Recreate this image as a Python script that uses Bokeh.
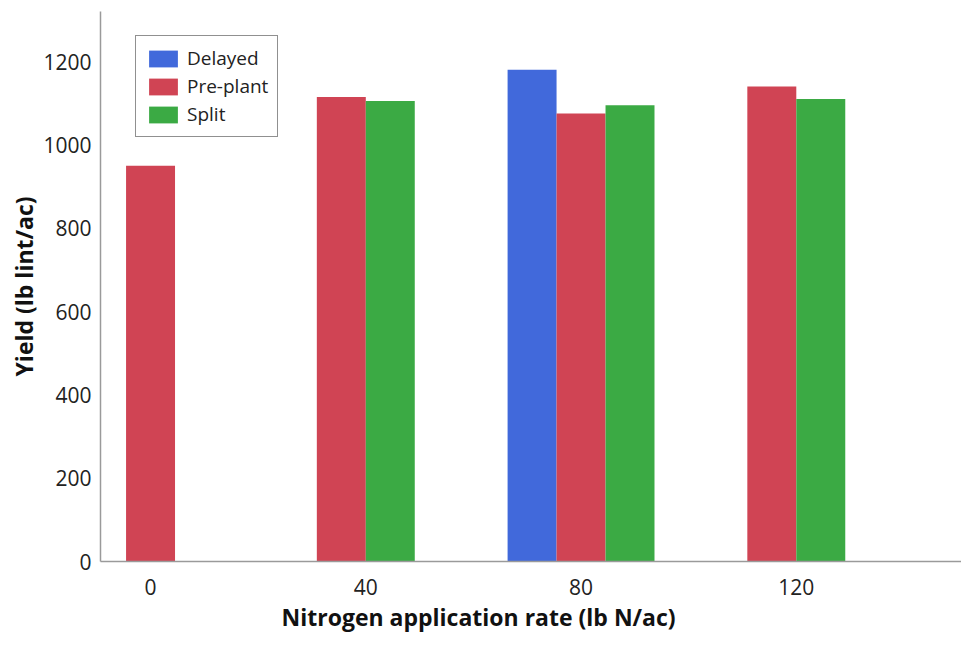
from bokeh.plotting import figure
from bokeh.models import FixedTicker, Legend, LegendItem, ColumnDataSource, Range1d, Title
from bokeh.embed import file_html
from bokeh.resources import INLINE

# ---- data ----
rates = [0, 40, 80, 120]
rate_labels = ["0", "40", "80", "120"]
series_names = ["Delayed", "Pre-plant", "Split"]
delayed = [None, None, 1180, None]
preplant = [950, 1115, 1075, 1140]
split = [None, 1105, 1095, 1110]
colors = ["#4169DB", "#D04454", "#3BAA44"]
y_ticks = [0, 200, 400, 600, 800, 1000, 1200]

FONT = "Open Sans"
bar_w = 9.1

p = figure(width=961, height=640, output_backend="svg", toolbar_location=None,
           x_range=Range1d(-9.3, 150.7), y_range=Range1d(0, 1320),
           min_border_left=100, min_border_right=0, min_border_top=11, min_border_bottom=79)
p.outline_line_color = None
p.xgrid.visible = False
p.ygrid.visible = False

all_series = [delayed, preplant, split]
renderers = []
for si, (name, vals) in enumerate(zip(series_names, all_series)):
    xs, tops = [], []
    for gi, r in enumerate(rates):
        present = [k for k in range(3) if all_series[k][gi] is not None]
        if vals[gi] is None:
            continue
        pos = present.index(si)
        off = (pos - (len(present) - 1) / 2) * bar_w
        xs.append(r + off)
        tops.append(vals[gi])
    src = ColumnDataSource(dict(x=xs, top=tops))
    rr = p.vbar(x="x", top="top", bottom=0, width=bar_w, source=src,
                fill_color=colors[si], line_color=None)
    renderers.append((name, rr))

for ax in (p.xaxis[0], p.yaxis[0]):
    ax.axis_line_color = "#9a9a9a"
    ax.axis_line_width = 1.5
    ax.major_tick_line_color = None
    ax.minor_tick_line_color = None
    ax.major_tick_out = 0
    ax.major_tick_in = 0
    ax.minor_tick_out = 0
    ax.minor_tick_in = 0
    ax.major_label_text_font = FONT
    ax.major_label_text_font_size = "21px"
    ax.major_label_text_color = "#222222"
    ax.axis_label_text_font = FONT
    ax.axis_label_text_font_style = "bold"
    ax.axis_label_text_font_size = "23px"
    ax.axis_label_text_color = "#111111"

p.xaxis.ticker = FixedTicker(ticks=rates)
p.xaxis.major_label_overrides = {r: l for r, l in zip(rates, rate_labels)}
p.xaxis.major_label_standoff = 17

p.yaxis.ticker = FixedTicker(ticks=y_ticks)
p.yaxis.axis_label = "Yield (lb lint/ac)"
p.yaxis.major_label_standoff = 9
p.yaxis.axis_label_standoff = 0

xt = Title(text="Nitrogen application rate (lb N/ac)", align="left", offset=181,
           text_font=FONT, text_font_style="bold", text_font_size="23px",
           text_color="#111111", standoff=3)
p.add_layout(xt, "below")

legend = Legend(items=[LegendItem(label=n, renderers=[r]) for n, r in renderers],
                location=(35, 424))
legend.border_line_color = "#222222"
legend.border_line_width = 1.2
legend.label_text_font = FONT
legend.label_text_font_size = "19px"
legend.label_text_color = "#222222"
legend.glyph_width = 36
legend.glyph_height = 21
legend.label_height = 21
legend.spacing = 2
legend.padding = 9
legend.label_standoff = 6
legend.margin = 0
legend.background_fill_alpha = 1
p.add_layout(legend, "center")

open("out.html", "w").write(file_html(p, INLINE))
